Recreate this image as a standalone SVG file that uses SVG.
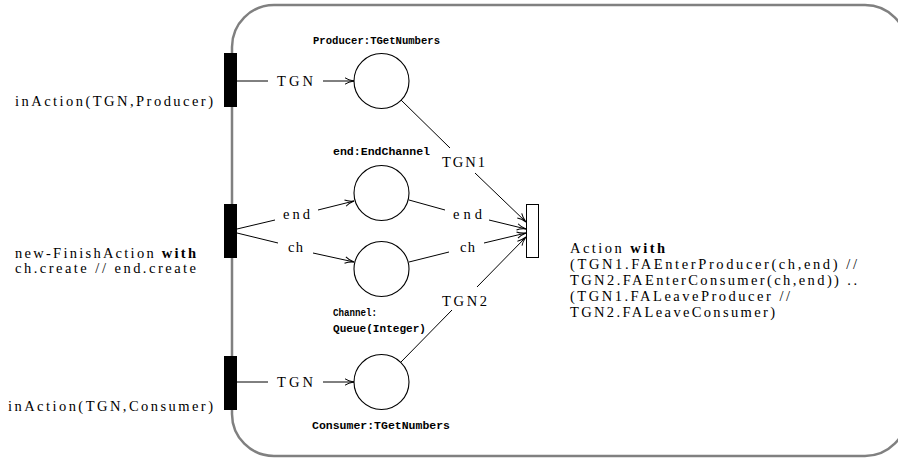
<svg xmlns="http://www.w3.org/2000/svg" width="898" height="458" viewBox="0 0 898 458">
  <defs>
    <marker id="arrow" viewBox="0 0 10 8" refX="9.5" refY="4" markerWidth="10" markerHeight="8" markerUnits="userSpaceOnUse" orient="auto">
      <path d="M0.5,0.8 Q4,3.2 9.5,4 Q4,4.8 0.5,7.2" fill="none" stroke="#000" stroke-width="1"/>
    </marker>
  </defs>
  <style>
    .frame { fill: none; stroke: #808080; stroke-width: 2.5; }
    .bar { fill: #000; stroke: #000; stroke-width: 1; }
    .trans { fill: #fff; stroke: #000; stroke-width: 1; }
    .place { fill: #fff; stroke: #000; stroke-width: 1.1; }
    .arc { fill: none; stroke: #000; stroke-width: 1; }
    .arr { fill: none; stroke: #000; stroke-width: 1; marker-end: url(#arrow); }
    .lbl { font-family: "Liberation Serif", "DejaVu Serif", serif; font-size: 14.5px; fill: #000; }
    .b { font-weight: bold; }
    .nm { font-family: "Liberation Mono", "DejaVu Sans Mono", monospace; font-size: 10.5px; font-weight: bold; fill: #000; }
  </style>

  <rect width="898" height="458" fill="#fff"/>

  <!-- enclosing block -->
  <rect class="frame" x="232" y="5" width="675" height="451" rx="42" ry="42"/>

  <!-- connectors -->
  <g id="connectors">
    <line class="arc" x1="237" y1="81" x2="268" y2="81"/>
    <line class="arr" x1="323" y1="81" x2="354" y2="81"/>
    <text class="lbl" x="277" y="86" textLength="36" lengthAdjust="spacing">TGN</text>

    <line class="arc" x1="401" y1="100" x2="450" y2="148"/>
    <line class="arr" x1="475" y1="173" x2="526" y2="222"/>
    <text class="lbl" x="442" y="167" textLength="43" lengthAdjust="spacing">TGN1</text>

    <line class="arc" x1="237" y1="229" x2="275" y2="220"/>
    <line class="arr" x1="318" y1="210" x2="354" y2="201"/>
    <text class="lbl" x="283" y="219" textLength="27" lengthAdjust="spacing">end</text>

    <line class="arc" x1="409" y1="200" x2="445" y2="210"/>
    <line class="arr" x1="489" y1="220" x2="526" y2="229"/>
    <text class="lbl" x="453" y="219" textLength="29" lengthAdjust="spacing">end</text>

    <line class="arc" x1="237" y1="233" x2="278" y2="243"/>
    <line class="arr" x1="313" y1="253" x2="354" y2="262"/>
    <text class="lbl" x="288" y="252" textLength="15" lengthAdjust="spacing">ch</text>

    <line class="arc" x1="409" y1="262" x2="449" y2="252"/>
    <line class="arr" x1="484" y1="243" x2="526" y2="233"/>
    <text class="lbl" x="460" y="252" textLength="15" lengthAdjust="spacing">ch</text>

    <line class="arc" x1="401" y1="362" x2="452" y2="310"/>
    <line class="arr" x1="477" y1="287" x2="526" y2="237"/>
    <text class="lbl" x="442" y="306" textLength="45" lengthAdjust="spacing">TGN2</text>

    <line class="arc" x1="237" y1="382" x2="268" y2="382"/>
    <line class="arr" x1="323" y1="382" x2="354" y2="382"/>
    <text class="lbl" x="277" y="387" textLength="36" lengthAdjust="spacing">TGN</text>
  </g>

  <!-- transitions -->
  <g id="t-in-producer">
    <rect class="bar" x="224.5" y="53.5" width="12" height="53"/>
    <text class="lbl" x="15" y="106" textLength="198" lengthAdjust="spacing">inAction(TGN,Producer)</text>
  </g>
  <g id="t-new-finish">
    <rect class="bar" x="224.5" y="204.5" width="12" height="53"/>
    <text class="lbl" x="15" y="258" textLength="181" lengthAdjust="spacing">new-FinishAction <tspan class="b">with</tspan></text>
    <text class="lbl" x="15" y="273" textLength="181" lengthAdjust="spacing">ch.create // end.create</text>
  </g>
  <g id="t-in-consumer">
    <rect class="bar" x="224.5" y="356.5" width="12" height="53"/>
    <text class="lbl" x="8" y="411" textLength="205" lengthAdjust="spacing">inAction(TGN,Consumer)</text>
  </g>
  <g id="t-action">
    <rect class="trans" x="526.5" y="204.5" width="12" height="53"/>
    <text class="lbl" x="570" y="253" textLength="95" lengthAdjust="spacing">Action <tspan class="b">with</tspan></text>
    <text class="lbl" x="570" y="269" textLength="287" lengthAdjust="spacing">(TGN1.FAEnterProducer(ch,end) //</text>
    <text class="lbl" x="570" y="285" textLength="287" lengthAdjust="spacing">TGN2.FAEnterConsumer(ch,end)) ..</text>
    <text class="lbl" x="570" y="301" textLength="220" lengthAdjust="spacing">(TGN1.FALeaveProducer //</text>
    <text class="lbl" x="570" y="317" textLength="205" lengthAdjust="spacing">TGN2.FALeaveConsumer)</text>
  </g>

  <!-- places -->
  <g id="p-producer">
    <circle class="place" cx="381.5" cy="81" r="27.5"/>
    <text class="nm" x="313" y="44" textLength="127" lengthAdjust="spacingAndGlyphs">Producer:TGetNumbers</text>
  </g>
  <g id="p-end">
    <circle class="place" cx="381.5" cy="193" r="27.5"/>
    <text class="nm" x="333" y="155" textLength="97" lengthAdjust="spacingAndGlyphs">end:EndChannel</text>
  </g>
  <g id="p-channel">
    <circle class="place" cx="381.5" cy="269" r="27.5"/>
    <text class="nm" x="333" y="316" textLength="44" lengthAdjust="spacingAndGlyphs">Channel:</text>
    <text class="nm" x="333" y="332" textLength="93" lengthAdjust="spacingAndGlyphs">Queue(Integer)</text>
  </g>
  <g id="p-consumer">
    <circle class="place" cx="381.5" cy="382" r="27.5"/>
    <text class="nm" x="312" y="429" textLength="138" lengthAdjust="spacingAndGlyphs">Consumer:TGetNumbers</text>
  </g>
</svg>
